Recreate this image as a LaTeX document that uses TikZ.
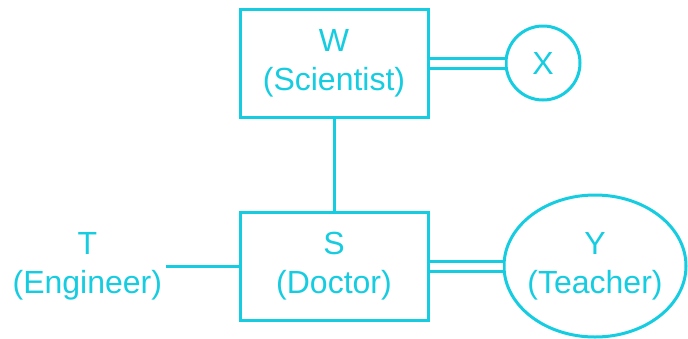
\documentclass[tikz,border=0pt]{standalone}
\usepackage{fontspec}
\setmainfont{Liberation Sans}
\usepackage{xcolor}
\usepackage{tikz}
\usetikzlibrary{positioning, shapes.geometric}
\definecolor{relcyan}{RGB}{22, 204, 224}

\begin{document}
\begin{tikzpicture}[x=1pt, y=-1pt, color=relcyan, line width=3pt,
    every node/.style={font=\fontsize{32}{39}\selectfont, align=center, text=relcyan},
    person/.style={draw, rectangle, minimum width=188pt, minimum height=108pt, inner sep=0pt},
    kin/.style={draw, ellipse, inner xsep=-6pt, inner ysep=0pt},
    rel/.style={double=white, double distance=7pt}]
    \useasboundingbox (0,0) rectangle (688,338);
    \node[person] (w) at (334,63) {W\\(Scientist)};
    \node[person, below = 92pt of w] (s) {S\\(Doctor)};
    \node[kin, minimum width=74pt, minimum height=74pt, right = 75pt of w] (x) {X};
    \node[kin, minimum width=182pt, minimum height=142pt, right = 73pt of s] (y) {Y\\(Teacher)};
    \node[inner sep=2pt, left = 73pt of s] (t) {T\\(Engineer)};
    \draw (w) -- (s);
    \draw[rel] (w) -- (x);
    \draw[rel] (s) -- (y);
    \draw (t.east) -- (s.west);
\end{tikzpicture}
\end{document}
